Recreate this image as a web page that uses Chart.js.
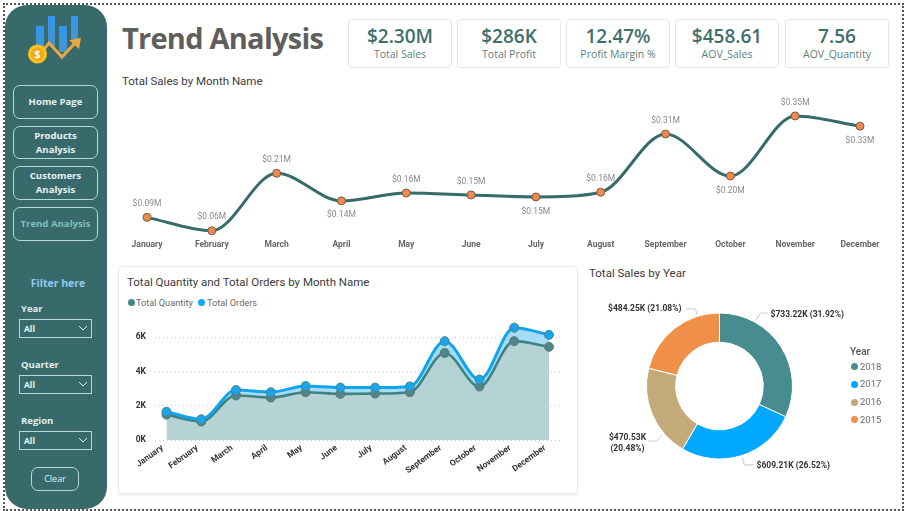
<!DOCTYPE html>
<html>
<head>
<meta charset="utf-8">
<title>Trend Analysis</title>
<script src="https://cdn.jsdelivr.net/npm/chart.js@4"></script>
<style>
  html, body { margin: 0; padding: 0; background: #fff; }
  body { width: 905px; height: 511px; position: relative; overflow: hidden; font-family: Roboto, "Open Sans", sans-serif; }
  .abs, canvas { position: absolute; }
  #frame { left: 3px; top: 3px; width: 897px; height: 504px; border: 2px dotted #555; }
  #side { left: 5px; top: 5px; width: 102px; height: 504px; background: #386a6c; border-radius: 22px; }
  .nav { position: absolute; left: 13px; width: 83px; border: 1px solid #b4d8d5; border-radius: 7px; color: #e8f3f2; font: 700 9.6px/14px "Open Sans", sans-serif; text-align: center; display: flex; align-items: center; justify-content: center; }
  .filterLabel { position: absolute; left: 21px; color: #e3efee; font: 700 9.5px/12px "Open Sans", sans-serif; }
  .drop { position: absolute; left: 19px; width: 71px; height: 17px; border: 1px solid #b4d8d5; color: #eef6f5; font: 700 8.5px/17px "Open Sans", sans-serif; text-indent: 4px; }
  .drop svg { position: absolute; left: 58px; top: 5px; }
  .kpi { position: absolute; top: 18.500px; height: 47px; width: 102px; border: 1px solid #e4e6e6; border-radius: 4px; text-align: center; color: #3f6f6c; }
  .kpi b { display: block; font: 600 19px/24px "Open Sans", sans-serif; margin-top: 4px; }
  .kpi span { display: block; font: 400 10.5px/13px "Open Sans", sans-serif; color: #5b7f7d; margin-top: 0; }
  .chartTitle { position: absolute; color: #3b3b3b; font: 400 11.5px/14px Roboto, sans-serif; white-space: nowrap; }
  #card { left: 118px; top: 266px; width: 458px; height: 226px; border: 1px solid #ececec; border-radius: 3px; box-shadow: 0 1px 3px rgba(0,0,0,.08); background: #fff; }
  .legendItem { position: absolute; color: #6a6a6a; font: 400 9.2px/12px Roboto, sans-serif; white-space: nowrap; }
  .dot { position: absolute; width: 7px; height: 7px; border-radius: 50%; }
</style>
</head>
<body>
<div id="frame" class="abs"></div>
<div id="side" class="abs"></div>

<svg class="abs" style="left:25px;top:12px" width="62" height="55" viewBox="25 12 62 55">
  <defs>
    <linearGradient id="bar" x1="0" y1="0" x2="0" y2="1">
      <stop offset="0" stop-color="#2f95f2"/><stop offset="1" stop-color="#4aa3e8" stop-opacity=".75"/>
    </linearGradient>
  </defs>
  <rect x="36" y="26" width="8" height="24" fill="url(#bar)"/>
  <rect x="48" y="16" width="7" height="30" fill="url(#bar)"/>
  <rect x="59" y="26" width="8" height="26" fill="url(#bar)"/>
  <rect x="71" y="16" width="7" height="23" fill="url(#bar)"/>
  <polyline points="40,54 49,43 62,57 76,42" fill="none" stroke="#e9a83e" stroke-width="3"/>
  <polygon points="81,38 69,40 79,49" fill="#e9a83e"/>
  <circle cx="37.500" cy="54" r="9.500" fill="#fbc21c"/>
  <circle cx="37.500" cy="54" r="6.500" fill="#f2a90f"/>
  <text x="37.500" y="58" text-anchor="middle" fill="#fff" font-family="Open Sans" font-weight="700" font-size="11">$</text>
</svg>

<div class="nav" style="top:85px;height:32px">Home Page</div>
<div class="nav" style="top:126px;height:31px">Products<br>Analysis</div>
<div class="nav" style="top:166px;height:32px">Customers<br>Analysis</div>
<div class="nav" style="top:207px;height:32px;color:#84bfba">Trend Analysis</div>

<div class="abs" style="left:5px;width:106px;top:276px;text-align:center;color:#8fcbef;font:700 10.500px/14px 'Open Sans',sans-serif">Filter here</div>
<div class="filterLabel" style="top:303px">Year</div>
<div class="drop" style="top:319px">All<svg width="10" height="7"><polyline points="1,1 5,5 9,1" fill="none" stroke="#d9ecea"/></svg></div>
<div class="filterLabel" style="top:359px">Quarter</div>
<div class="drop" style="top:375px">All<svg width="10" height="7"><polyline points="1,1 5,5 9,1" fill="none" stroke="#d9ecea"/></svg></div>
<div class="filterLabel" style="top:415px">Region</div>
<div class="drop" style="top:431px">All<svg width="10" height="7"><polyline points="1,1 5,5 9,1" fill="none" stroke="#d9ecea"/></svg></div>
<div class="nav" style="left:31px;width:46px;top:467px;height:22px;font-weight:400;font-size:9px">Clear</div>

<div class="abs" style="left:122px;top:17px;color:#605e5c;font:700 29px/42px 'Open Sans',sans-serif;letter-spacing:-.75px;white-space:nowrap">Trend Analysis</div>

<div class="kpi" style="left:348px"><b>$2.30M</b><span>Total Sales</span></div>
<div class="kpi" style="left:457px"><b>$286K</b><span>Total Profit</span></div>
<div class="kpi" style="left:566px"><b>12.47%</b><span>Profit Margin %</span></div>
<div class="kpi" style="left:675px"><b>$458.61</b><span>AOV_Sales</span></div>
<div class="kpi" style="left:785px"><b>7.56</b><span>AOV_Quantity</span></div>

<div class="chartTitle" style="left:122px;top:74px">Total Sales by Month Name</div>
<canvas id="salesLine" width="805" height="170" style="left:100px;top:90px"></canvas>

<div id="card" class="abs"></div>
<div class="chartTitle" style="left:127px;top:275px">Total Quantity and Total Orders by Month Name</div>
<div class="dot" style="left:128px;top:299px;background:#408a84"></div>
<div class="legendItem" style="left:136px;top:297px">Total Quantity</div>
<div class="dot" style="left:198px;top:299px;background:#0ea8f5"></div>
<div class="legendItem" style="left:207px;top:297px">Total Orders</div>
<canvas id="qtyOrders" width="447" height="181" style="left:120px;top:306px"></canvas>

<div class="chartTitle" style="left:589px;top:266px">Total Sales by Year</div>
<canvas id="yearDonut" width="329" height="212" style="left:555px;top:280px"></canvas>
<div id="yearLegend"></div>

<script>
  const months = ['January','February','March','April','May','June','July','August','September','October','November','December'];
  // Monthly sales in $M
  const monthlySales = [0.094,0.060,0.206,0.136,0.156,0.151,0.146,0.158,0.306,0.199,0.352,0.326];
  // Months whose value label sits under the point
  const labelBelow = ['April','July','October','December'];
  const totalQuantity = [1480,1080,2600,2480,2790,2690,2710,2790,5080,3120,5770,5440];
  const totalOrders = [1650,1210,2920,2790,3150,3060,3060,3130,5770,3530,6560,6140];
  const quantityTicks = [0,2000,4000,6000];
  const years = ['2018','2017','2016','2015'];
  const yearSales = [733.22,609.21,470.53,484.25];
  const yearShare = ['31.92%','26.52%','20.48%','21.08%'];

  const teal = '#376b6b', orange = '#ed8b4e';
  const yearColors = ['#478c8e','#00a9ff','#c2ab78','#f08f47'];

  // Value captions above or below each point of the sales line
  const salesLabels = {
    id: 'salesLabels',
    afterDatasetsDraw(chart) {
      const ctx = chart.ctx;
      ctx.save();
      ctx.font = '400 8.5px Roboto, sans-serif';
      ctx.fillStyle = '#8a8a8a';
      ctx.textAlign = 'center';
      ctx.textBaseline = 'middle';
      chart.getDatasetMeta(0).data.forEach((pt, i) => {
        const dy = labelBelow.includes(months[i]) ? 14.5 : -13.5;
        ctx.fillText('$' + monthlySales[i].toFixed(2) + 'M', pt.x, pt.y + dy);
      });
      ctx.restore();
    }
  };

  new Chart(document.getElementById('salesLine'), {
    type: 'line',
    data: { labels: months, datasets: [{
      data: monthlySales, borderColor: teal, borderWidth: 3,
      cubicInterpolationMode: 'monotone',
      pointRadius: 4, pointBackgroundColor: orange, pointBorderColor: '#7b5a42', pointBorderWidth: 1
    }]},
    options: {
      responsive: false, animation: false, events: [],
      layout: { padding: { left: 14.6, right: 12.6, top: 11, bottom: 3.4 } },
      plugins: { legend: { display: false }, tooltip: { enabled: false } },
      scales: {
        x: { offset: true, grid: { display: false, drawTicks: false }, border: { display: false },
             afterFit(s) { s.height = 18; },
             ticks: { autoSkip: false, maxRotation: 0, padding: 1, color: '#666', font: { family: 'Roboto, sans-serif', weight: '700', size: 8.5 } } },
        y: { display: false, min: 0.04, max: 0.39 }
      }
    },
    plugins: [salesLabels]
  });

  new Chart(document.getElementById('qtyOrders'), {
    type: 'line',
    data: { labels: months, datasets: [
      { label: 'Total Orders', data: totalOrders.map((v, i) => ({ x: i, y: v })),
        borderColor: '#0ea5ee', borderWidth: 3, cubicInterpolationMode: 'monotone',
        fill: { target: 1 }, backgroundColor: '#a6dcf6',
        pointRadius: 4.5, pointBackgroundColor: '#17a6ea', pointBorderColor: '#55808f', pointBorderWidth: 1 },
      { label: 'Total Quantity', data: totalQuantity.map((v, i) => ({ x: i, y: v })),
        borderColor: '#3f8284', borderWidth: 2.6, cubicInterpolationMode: 'monotone',
        fill: 'origin', backgroundColor: '#b5d2d4',
        pointRadius: 4.5, pointBackgroundColor: '#4f8789', pointBorderColor: '#5c7a7c', pointBorderWidth: 1 }
    ]},
    options: {
      responsive: false, animation: false, events: [],
      layout: { padding: { left: 0, right: 0, top: 6.9, bottom: 0 } },
      plugins: { legend: { display: false }, tooltip: { enabled: false }, filler: { drawTime: 'beforeDatasetsDraw' } },
      scales: {
        x: { type: 'linear', min: -0.33, max: 11.36,
             grid: { display: false, drawTicks: false }, border: { display: false },
             afterFit(s) { s.height = 47; },
             afterBuildTicks(s) { s.ticks = months.map((m, i) => ({ value: i })); },
             ticks: { autoSkip: false, minRotation: 36, maxRotation: 36, padding: 3, labelOffset: -4, color: '#333',
                      callback: v => months[v],
                      font: { family: 'Roboto, sans-serif', weight: '700', size: 8.5 } } },
        y: { min: 0, max: 7000,
             border: { display: false, dash: [1, 3] },
             grid: { color: '#cfcfcf', lineWidth: 1, drawTicks: false },
             afterFit(s) { s.width = 35; },
             afterBuildTicks(s) { s.ticks = quantityTicks.map(v => ({ value: v })); },
             ticks: { padding: 9, color: '#333', callback: v => (v / 1000) + 'K',
                      font: { family: 'Roboto, sans-serif', weight: '700', size: 8.5 } } }
      }
    }
  });

  // Leader line and caption geometry per slice, relative to the ring centre
  const leaderSpec = [
    { deg: 29,    elbow: [41, -73],  end: [48, -73],  text: [51, -71],  align: 'left' },
    { deg: 162.5, elbow: [25, 79],   end: [34, 79],   text: [37, 80],   align: 'left' },
    { deg: 229.4, elbow: [-63, 55],  end: [-71, 55],  text: [-92, 52],  align: 'center' },
    { deg: -17.4, elbow: [-24, -77], end: [-34, -77], text: [-38, -77], align: 'right' }
  ];

  const donutLabels = {
    id: 'donutLabels',
    afterDatasetsDraw(chart) {
      const ctx = chart.ctx;
      const arcs = chart.getDatasetMeta(0).data;
      ctx.save();
      ctx.font = '700 8.5px Roboto, sans-serif';
      ctx.textBaseline = 'middle';
      arcs.forEach((arc, i) => {
        const s = leaderSpec[i], a = s.deg * Math.PI / 180, r = arc.outerRadius + 2;
        ctx.strokeStyle = '#c9c9c9';
        ctx.lineWidth = 1;
        ctx.beginPath();
        ctx.moveTo(arc.x + r * Math.sin(a), arc.y - r * Math.cos(a));
        ctx.lineTo(arc.x + s.elbow[0], arc.y + s.elbow[1]);
        ctx.lineTo(arc.x + s.end[0], arc.y + s.end[1]);
        ctx.stroke();
        ctx.fillStyle = '#333';
        ctx.textAlign = s.align;
        const labelLines = i === 2
          ? ['$' + yearSales[i] + 'K', '(' + yearShare[i] + ')']
          : ['$' + yearSales[i] + 'K (' + yearShare[i] + ')'];
        labelLines.forEach((t, k) => ctx.fillText(t, arc.x + s.text[0], arc.y + s.text[1] + k * 11));
      });
      ctx.restore();
    }
  };

  new Chart(document.getElementById('yearDonut'), {
    type: 'doughnut',
    data: { labels: years, datasets: [{ data: yearSales, backgroundColor: yearColors, borderColor: '#fff', borderWidth: 1 }] },
    options: {
      responsive: false, animation: false, events: [],
      radius: 73, cutout: '60%',
      plugins: { legend: { display: false }, tooltip: { enabled: false } }
    },
    plugins: [donutLabels]
  });

  // Year legend beside the ring
  const legendHost = document.getElementById('yearLegend');
  const legendRows = [366.500, 384, 402, 419.500];
  legendHost.innerHTML = '<div class="legendItem" style="left:850px;top:346px;color:#555;font-size:10px;font-weight:500;">Year</div>' +
    years.map((y, i) =>
      '<div class="dot" style="left:851px;top:' + (legendRows[i] - 3.5) + 'px;background:' + yearColors[i] + '"></div>' +
      '<div class="legendItem" style="left:860px;top:' + (legendRows[i] - 6) + 'px;font-size:9.5px">' + y + '</div>').join('');
</script>
</body>
</html>
